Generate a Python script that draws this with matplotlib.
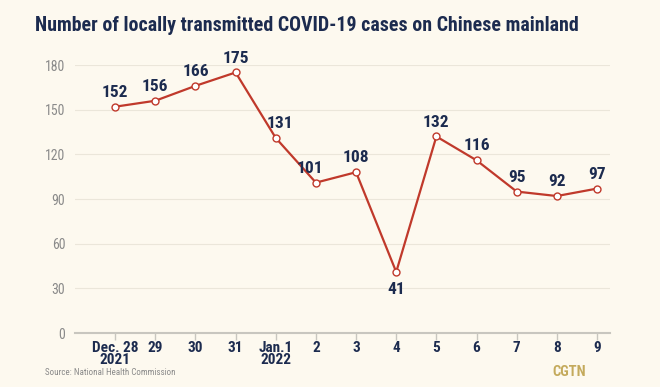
import matplotlib.pyplot as plt
import numpy as np

days = ['Dec. 28\n2021', '29', '30', '31', 'Jan.1\n2022', '2', '3', '4', '5', '6', '7', '8', '9']
cases = [152, 156, 166, 175, 131, 101, 108, 41, 132, 116, 95, 92, 97]
y_ticks = [0, 30, 60, 90, 120, 150, 180]

bg = '#fdf9ef'
navy = '#1c2b4f'
red = '#c0392b'
fam = ['Roboto Condensed', 'DejaVu Sans']

fig = plt.figure(figsize=(6.6, 3.87), dpi=100, facecolor=bg)
ax = fig.add_axes([0.1136, 0.1395, 0.8104, 0.6925], facecolor=bg)

x = np.arange(len(days))
ax.plot(x, cases, color=red, linewidth=1.6, marker='o', markersize=5,
        markerfacecolor='white', markeredgecolor=red, markeredgewidth=1, zorder=3, clip_on=False)

# label offsets (points)
offs = {4: (3, 5), 5: (-4, 5), 7: (0, -7)}
for i, v in enumerate(cases):
    dx, dy = offs.get(i, (0, 5))
    ax.annotate(str(v), (x[i], v), xytext=(dx, dy), textcoords='offset points',
                ha='center', va='bottom' if dy > 0 else 'top', fontsize=12.5,
                fontweight='bold', color=navy, family=fam)

ax.set_xlim(-1.0, 12.32)
ax.set_ylim(0, 180)
ax.set_yticks(y_ticks)
ax.set_yticklabels([str(t) for t in y_ticks], fontsize=10, color='#8a8a8a', family=fam)
ax.set_xticks(x)
ax.set_xticklabels(days, fontsize=11, fontweight='bold', color=navy, family=fam, linespacing=0.8)
ax.tick_params(axis='y', length=0, pad=7)
ax.tick_params(axis='x', length=5, color='#c8c6bf', width=1, pad=1, direction='out')
ax.grid(axis='y', color='#ebe6da', linewidth=0.8)
for s in ['top', 'right', 'left']:
    ax.spines[s].set_visible(False)
ax.spines['bottom'].set_color('#c8c6bf')
ax.spines['bottom'].set_linewidth(1.5)

fig.text(0.053, 0.935, 'Number of locally transmitted COVID-19 cases on Chinese mainland',
         fontsize=14.3, fontweight='bold', color=navy, family=fam, va='center')
fig.text(0.068, 0.038, 'Source: National Health Commission', fontsize=6.5, color='#8a8a8a',
         family=fam, va='center')
fig.text(0.862, 0.038, 'CGTN', fontsize=10.5, fontweight='bold', color='#c4aa5c',
         family=fam, va='center', ha='center')

plt.savefig('out.png', dpi=100, facecolor=bg)
